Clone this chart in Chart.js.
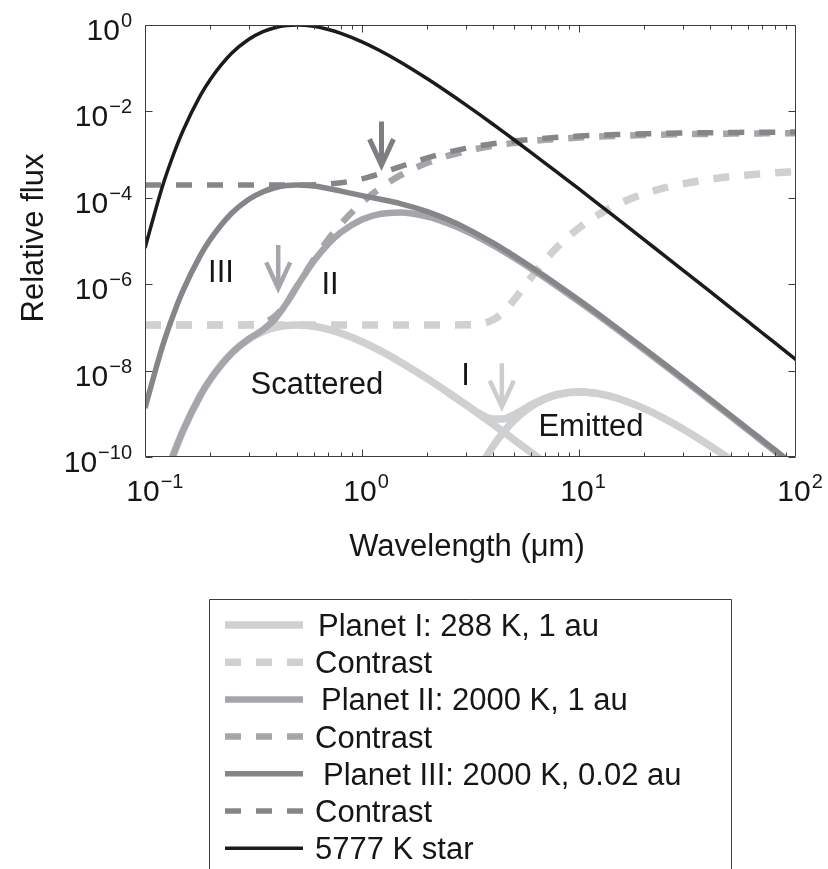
<!DOCTYPE html>
<html><head><meta charset="utf-8">
<script src="https://cdn.jsdelivr.net/npm/chart.js@4.4.1/dist/chart.umd.min.js"></script>
<style>html,body{margin:0;padding:0;background:#fff;}canvas{display:block;}</style>
</head><body>
<canvas id="c" width="828" height="869"></canvas>
<script>
// Wavelength grid (µm)
const wavelength = [0.1, 0.12, 0.135, 0.15, 0.18, 0.2, 0.25, 0.3, 0.35, 0.4, 0.45, 0.5, 0.6, 0.7, 0.8, 1, 1.2, 1.5, 2, 2.5, 3, 3.5, 4, 4.5, 5, 6, 7, 8, 10, 12, 15, 20, 25, 30, 40, 50, 60, 70, 80, 100];
// 5777 K star
const star = [6.89e-6, 1.76e-4, 9.79e-4, 3.66e-3, 2.34e-2, 5.51e-2, 0.218, 0.461, 0.699, 0.874, 0.970, 1.0, 0.930, 0.788, 0.641, 0.408, 0.261, 0.140, 5.71e-2, 2.71e-2, 1.44e-2, 8.29e-3, 5.11e-3, 3.31e-3, 2.24e-3, 1.13e-3, 6.29e-4, 3.77e-4, 1.60e-4, 7.87e-5, 3.29e-5, 1.06e-5, 4.42e-6, 2.15e-6, 6.87e-7, 2.83e-7, 1.37e-7, 7.42e-8, 4.36e-8, 1.79e-8];
// Planet I: 288 K, 1 au
const planet1Scattered = [7.9e-13, 2.0e-11, 1.12e-10, 4.17e-10, 2.67e-9, 6.28e-9, 2.49e-8, 5.26e-8, 7.97e-8, 9.96e-8, 1.106e-7, 1.14e-7, 1.06e-7, 8.98e-8, 7.31e-8, 4.65e-8, 2.97e-8, 1.59e-8, 6.51e-9, 3.09e-9, 1.64e-9, 9.45e-10, 5.82e-10, 3.77e-10, 2.55e-10, 1.29e-10, 7.17e-11, 4.30e-11, 1.82e-11, null, null, null, null, null, null, null, null, null, null, null];
const planet1Emitted = [null, null, null, null, null, null, null, null, null, null, null, null, null, null, null, null, null, null, null, null, 1.13e-11, 5.65e-11, 1.73e-10, 3.84e-10, 6.88e-10, 1.46e-9, 2.22e-9, 2.79e-9, 3.20e-9, 2.98e-9, 2.29e-9, 1.315e-9, 7.54e-10, 4.51e-10, 1.84e-10, 8.75e-11, 4.65e-11, 2.68e-11, 1.65e-11, 7.25e-12];
const planet1Total = [null, null, null, null, null, null, null, null, null, null, null, null, null, null, null, null, null, null, null, 3.09e-9, 1.65e-9, 1.00e-9, 7.55e-10, 7.61e-10, 9.43e-10, 1.59e-9, 2.29e-9, 2.83e-9, 3.22e-9, 2.99e-9, null, null, null, null, null, null, null, null, null, null];
const contrast1 = [1.14e-7, 1.14e-7, 1.14e-7, 1.14e-7, 1.14e-7, 1.14e-7, 1.14e-7, 1.14e-7, 1.14e-7, 1.14e-7, 1.14e-7, 1.14e-7, 1.14e-7, 1.14e-7, 1.14e-7, 1.14e-7, 1.14e-7, 1.14e-7, 1.14e-7, 1.14e-7, 1.148e-7, 1.21e-7, 1.48e-7, 2.30e-7, 4.21e-7, 1.41e-6, 3.64e-6, 7.51e-6, 2.01e-5, 3.79e-5, 6.96e-5, 1.24e-4, 1.71e-4, 2.10e-4, 2.68e-4, 3.09e-4, 3.39e-4, 3.61e-4, 3.78e-4, 4.05e-4];
// Planet II: 2000 K, 1 au
const planet2 = [7.9e-13, 2.0e-11, 1.12e-10, 4.17e-10, 2.67e-9, 6.28e-9, 2.49e-8, 5.33e-8, 8.91e-8, 1.63e-7, 3.69e-7, 8.69e-7, 3.45e-6, 8.65e-6, 1.594e-5, 3.14e-5, 4.20e-5, 4.59e-5, 3.68e-5, 2.55e-5, 1.72e-5, 1.17e-5, 8.10e-6, 5.74e-6, 4.16e-6, 2.32e-6, 1.386e-6, 8.75e-7, 3.97e-7, 2.05e-7, 8.95e-8, 3.02e-8, 1.28e-8, 6.35e-9, 2.07e-9, 8.65e-10, 4.22e-10, 2.30e-10, 1.36e-10, 5.61e-11];
const contrast2 = [1.14e-7, 1.14e-7, 1.14e-7, 1.14e-7, 1.14e-7, 1.14e-7, 1.14e-7, 1.154e-7, 1.275e-7, 1.863e-7, 3.80e-7, 8.69e-7, 3.70e-6, 1.098e-5, 2.49e-5, 7.71e-5, 1.612e-4, 3.29e-4, 6.45e-4, 9.43e-4, 1.197e-3, 1.41e-3, 1.587e-3, 1.734e-3, 1.859e-3, 2.056e-3, 2.205e-3, 2.32e-3, 2.486e-3, 2.60e-3, 2.72e-3, 2.84e-3, 2.91e-3, 2.96e-3, 3.02e-3, 3.06e-3, 3.08e-3, 3.10e-3, 3.11e-3, 3.13e-3];
// Planet III: 2000 K, 0.02 au
const planet3 = [1.36e-9, 3.48e-8, 1.94e-7, 7.25e-7, 4.63e-6, 1.09e-5, 4.32e-5, 9.13e-5, 1.384e-4, 1.731e-4, 1.924e-4, 1.988e-4, 1.874e-4, 1.646e-4, 1.428e-4, 1.122e-4, 9.37e-5, 7.36e-5, 4.81e-5, 3.09e-5, 2.005e-5, 1.334e-5, 9.11e-6, 6.40e-6, 4.60e-6, 2.54e-6, 1.51e-6, 9.50e-7, 4.29e-7, 2.21e-7, 9.6e-8, 3.23e-8, 1.37e-8, 6.78e-9, 2.21e-9, 9.21e-10, 4.49e-10, 2.45e-10, 1.45e-10, 5.96e-11];
const contrast3 = [1.98e-4, 1.98e-4, 1.98e-4, 1.98e-4, 1.98e-4, 1.98e-4, 1.98e-4, 1.98e-4, 1.98e-4, 1.981e-4, 1.983e-4, 1.988e-4, 2.016e-4, 2.089e-4, 2.228e-4, 2.75e-4, 3.59e-4, 5.27e-4, 8.43e-4, 1.141e-3, 1.395e-3, 1.608e-3, 1.785e-3, 1.932e-3, 2.057e-3, 2.254e-3, 2.403e-3, 2.518e-3, 2.684e-3, 2.80e-3, 2.92e-3, 3.03e-3, 3.11e-3, 3.16e-3, 3.22e-3, 3.25e-3, 3.28e-3, 3.30e-3, 3.31e-3, 3.33e-3];

// Tick labels
const xTickValues = [0.1, 1, 10, 100];
const xTickExponents = ['\u22121', '0', '1', '2'];
const yTickValues = [1, 1e-2, 1e-4, 1e-6, 1e-8, 1e-10];
const yTickExponents = ['0', '\u22122', '\u22124', '\u22126', '\u22128', '\u221210'];
const xTitle = 'Wavelength (\u03bcm)';
const yTitle = 'Relative flux';
const legendLabels = ['Planet I: 288 K, 1 au', 'Contrast', 'Planet II: 2000 K, 1 au', 'Contrast', 'Planet III: 2000 K, 0.02 au', 'Contrast', '5777 K star'];
// Annotation texts with anchors in data coordinates (wavelength, flux)
const noteTexts = ['III', 'II', 'Scattered', 'I', 'Emitted'];
const noteX = [0.224, 0.712, 0.62, 3.0, 11.35];
const noteY = [2.0e-6, 1.04e-6, 5.3e-9, 8.3e-9, 5.4e-10];
// Arrows: wavelength, tail flux, tip flux
const arrowX = [1.23, 0.411, 4.41];
const arrowTail = [5.8e-3, 8.1e-6, 1.48e-8];
const arrowTip = [5.7e-4, 8.0e-7, 1.46e-9];

const C1 = '#cfd0d2', C2 = '#a5a6aa', C3 = '#858689', CS = '#1b1b1b';
const W1 = 7.5, W2 = 6.5, W3 = 5.5, WS = 3.5;
const DASH = [16, 15];
const FONT = '"Liberation Sans", Arial, Helvetica, sans-serif';
const TXT = '#161616';
const FS = 31;

function pts(arr) {
  const out = [];
  wavelength.forEach((x, i) => { if (arr[i] != null) out.push({x: x, y: arr[i]}); });
  return out;
}
function ds(label, arr, color, width, dash) {
  return {label: label, data: pts(arr), borderColor: color, borderWidth: width, borderDash: dash || [],
    borderCapStyle: 'butt', borderJoinStyle: 'round', pointRadius: 0, fill: false,
    cubicInterpolationMode: 'monotone', clip: 0};
}
// first dataset is drawn on top
const datasets = [
  ds('5777 K star', star, CS, WS),
  ds('Contrast III', contrast3, C3, W3, DASH),
  ds('Planet III', planet3, C3, W3),
  ds('Planet II', planet2, C2, W2),
  ds('Contrast I', contrast1, C1, W1, DASH),
  ds('Contrast II', contrast2, C2, W2, DASH),
  ds('Planet I total', planet1Total, C1, W1),
  ds('Planet I scattered', planet1Scattered, C1, W1),
  ds('Planet I emitted', planet1Emitted, C1, W1)
];
const legendStyles = [
  {c: C1, w: W1, d: []}, {c: C1, w: W1, d: DASH},
  {c: C2, w: W2, d: []}, {c: C2, w: W2, d: DASH},
  {c: C3, w: W3, d: []}, {c: C3, w: W3, d: DASH},
  {c: CS, w: WS, d: []}
];
const legendTextShift = [0, -3, 3, -3, 5, -3, -3];
const arrowColors = ['#7d7e81', '#a5a6aa', '#cbcdcf'];
const arrowWidths = [5, 4.5, 4.5];

function drawPow(ctx, exp, x, baseline, mode) {
  ctx.font = '30px ' + FONT;
  const w10 = ctx.measureText('10').width;
  ctx.font = '20px ' + FONT;
  const we = ctx.measureText(exp).width;
  let x0;
  if (mode === 'right') x0 = x - w10 - we - 1;
  else x0 = x - w10 / 2 - 2;
  ctx.textAlign = 'left';
  ctx.textBaseline = 'alphabetic';
  ctx.font = '30px ' + FONT;
  ctx.fillText('10', x0, baseline);
  ctx.font = '20px ' + FONT;
  ctx.fillText(exp, x0 + w10 + 1, baseline - 13);
}

const decor = {
  id: 'decor',
  afterDatasetsDraw(chart) {
    const ctx = chart.ctx, a = chart.chartArea, xs = chart.scales.x, ys = chart.scales.y;
    ctx.save();
    const L = Math.round(a.left) + 0.5, R = Math.round(a.right) - 0.5, T = Math.round(a.top) + 0.5, B = Math.round(a.bottom) - 0.5;
    ctx.strokeStyle = '#3c3c3c';
    ctx.lineWidth = 1;
    ctx.setLineDash([]);
    ctx.beginPath();
    ctx.rect(L, T, R - L, B - T);
    for (let d = -1; d <= 1; d++) {
      for (let m = 1; m <= 9; m++) {
        const v = m * Math.pow(10, d);
        const px = Math.round(xs.getPixelForValue(v)) + 0.5;
        const len = m === 1 ? 7 : 4;
        ctx.moveTo(px, B); ctx.lineTo(px, B - len);
        ctx.moveTo(px, T); ctx.lineTo(px, T + len);
      }
    }
    yTickValues.forEach(v => {
      const py = Math.round(ys.getPixelForValue(v)) + 0.5;
      ctx.moveTo(L, py); ctx.lineTo(L + 7, py);
      ctx.moveTo(R, py); ctx.lineTo(R - 7, py);
    });
    ctx.stroke();

    ctx.fillStyle = TXT;
    xTickValues.forEach((v, i) => drawPow(ctx, xTickExponents[i], xs.getPixelForValue(v), 501, 'center'));
    yTickValues.forEach((v, i) => drawPow(ctx, yTickExponents[i], 132, ys.getPixelForValue(v) + 15, 'right'));

    ctx.font = FS + 'px ' + FONT;
    ctx.textAlign = 'center';
    ctx.textBaseline = 'alphabetic';
    ctx.fillText(xTitle, 467, 556);
    ctx.save();
    ctx.translate(43, 238);
    ctx.rotate(-Math.PI / 2);
    ctx.fillText(yTitle, 0, 0);
    ctx.restore();

    noteTexts.forEach((t, i) => {
      ctx.fillText(t, xs.getPixelForValue(noteX[i]), ys.getPixelForValue(noteY[i]) + 11);
    });

    ctx.lineCap = 'butt';
    ctx.lineJoin = 'miter';
    arrowX.forEach((v, i) => {
      const px = xs.getPixelForValue(v);
      const y0 = ys.getPixelForValue(arrowTail[i]);
      const y1 = ys.getPixelForValue(arrowTip[i]);
      ctx.strokeStyle = arrowColors[i];
      ctx.lineWidth = arrowWidths[i];
      ctx.beginPath();
      ctx.moveTo(px, y0); ctx.lineTo(px, y1 - 2);
      ctx.moveTo(px - 12, y1 - 26); ctx.lineTo(px, y1); ctx.lineTo(px + 12, y1 - 26);
      ctx.stroke();
    });

    const lx0 = 209.5, ly0 = 599.5, lx1 = 731.5;
    ctx.strokeStyle = '#3c3c3c';
    ctx.lineWidth = 1;
    ctx.beginPath();
    ctx.moveTo(lx0, 900); ctx.lineTo(lx0, ly0); ctx.lineTo(lx1, ly0); ctx.lineTo(lx1, 900);
    ctx.stroke();
    legendLabels.forEach((t, i) => {
      const cy = 625 + i * 37.2;
      const st = legendStyles[i];
      ctx.strokeStyle = st.c;
      ctx.lineWidth = st.w;
      ctx.setLineDash(st.d);
      ctx.beginPath();
      ctx.moveTo(225, cy); ctx.lineTo(303, cy);
      ctx.stroke();
      ctx.setLineDash([]);
      ctx.fillStyle = TXT;
      ctx.font = FS + 'px ' + FONT;
      ctx.textAlign = 'left';
      ctx.fillText(t, 318 + legendTextShift[i], cy + 11);
    });
    ctx.restore();
  }
};

new Chart(document.getElementById('c'), {
  type: 'line',
  data: {datasets: datasets},
  options: {
    responsive: false,
    animation: false,
    devicePixelRatio: 1,
    layout: {padding: {left: 145, right: 32, top: 25, bottom: 412}},
    scales: {
      x: {type: 'logarithmic', min: 0.1, max: 100, display: false},
      y: {type: 'logarithmic', min: 1e-10, max: 1, display: false}
    },
    plugins: {legend: {display: false}, tooltip: {enabled: false}}
  },
  plugins: [decor]
});
</script>
</body></html>
